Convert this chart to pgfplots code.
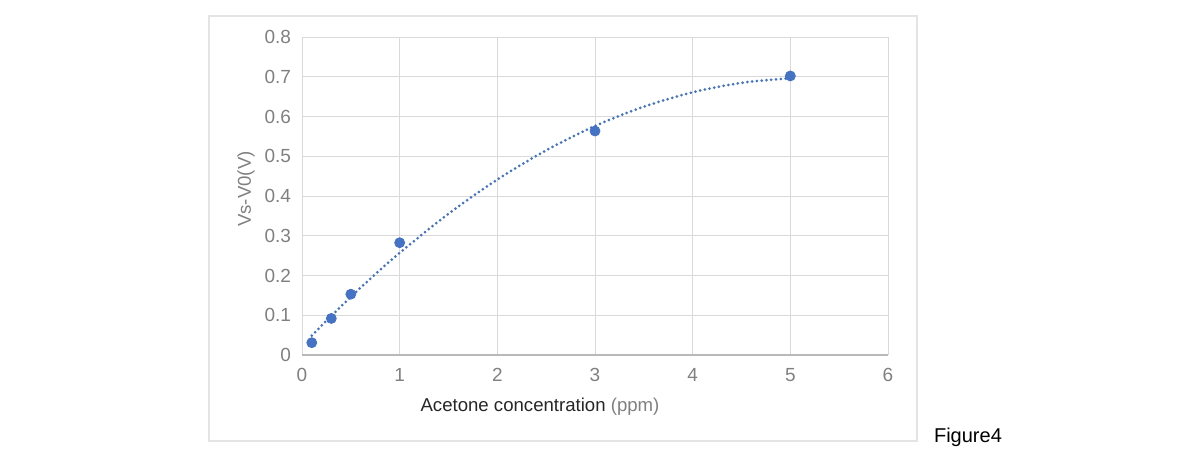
\documentclass[border=0pt]{standalone}
\usepackage{pgfplots}
\pgfplotsset{compat=1.18}
\usepackage{fontspec}
\setmainfont{Liberation Sans}
\definecolor{excelblue}{HTML}{4472C4}
\definecolor{gridgray}{HTML}{D9D9D9}
\definecolor{ticklab}{HTML}{808080}
\begin{document}
\begin{tikzpicture}[x=0.5pt,y=0.5pt]
\path (0,0) rectangle (1200,457);
\draw[draw=gridgray!70, line width=0.6pt] (209,16) rectangle (917,441);
\begin{axis}[
  at={(151pt,51pt)}, anchor=south west,
  scale only axis, width=293pt, height=159pt,
  xmin=0, xmax=6, ymin=0, ymax=0.8,
  xtick={0,1,...,6}, ytick={0,0.1,...,0.8},
  grid=major, major grid style={gridgray, line width=0.5pt},
  axis line style={draw=none},
  tick style={draw=none},
  ticklabel style={font=\fontsize{9.5}{11}\selectfont, text=ticklab},
  yticklabel style={/pgf/number format/fixed, /pgf/number format/precision=1},
  /pgf/number format/assume math mode=true,
  xticklabel style={yshift=-3pt},
  yticklabel style={xshift=-2pt},
  clip=false,
]
\draw[gray!55, line width=0.6pt] (axis cs:0,0) -- (axis cs:6,0);
\addplot[excelblue, line width=1.5pt, line cap=round, dash pattern=on 0pt off 2.4pt, smooth] coordinates {
(0.1,0.0486) (0.25,0.0861) (0.5,0.1462) (0.75,0.2032) (1,0.2570) (1.5,0.3554) (2,0.4414) (2.5,0.5149) (3,0.5761) (3.5,0.6247) (4,0.6609) (4.5,0.6847) (5,0.6964)};
\addplot[only marks, mark=*, mark size=2.5pt, mark options={fill=excelblue, draw=excelblue}] coordinates {
(0.1,0.031) (0.3,0.092) (0.5,0.153) (1,0.2825) (3,0.5635) (5,0.702)};
\end{axis}
\node[rotate=90, text=ticklab, font=\fontsize{9.3}{11}\selectfont] at (246,268) {Vs-V0(V)};
\node[font=\fontsize{9.3}{11}\selectfont] at (540,50) {\textcolor{black!85}{Acetone concentration} \textcolor{ticklab}{(ppm)}};
\node[anchor=west, font=\fontsize{10}{12}\selectfont] at (927,20) {Figure4};
\end{tikzpicture}
\end{document}
